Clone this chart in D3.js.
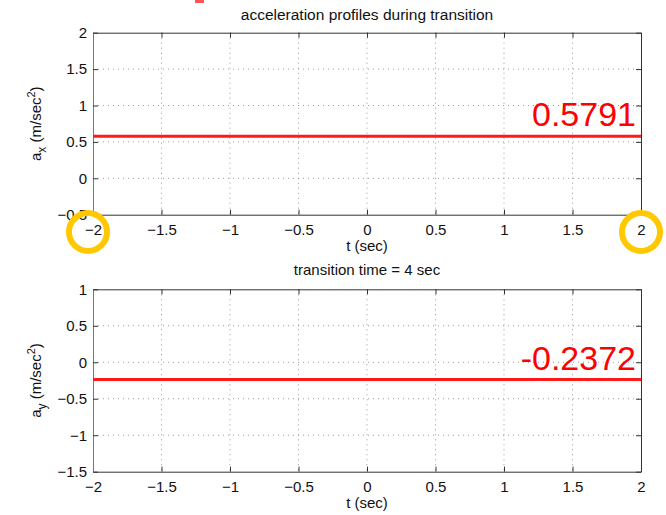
<!DOCTYPE html>
<html>
<head>
  <meta charset='utf-8'>
  <script src='https://cdn.jsdelivr.net/npm/d3@7/dist/d3.min.js'></script>
  <style>
    body { margin: 0; background: #fff; }
    svg { font-family: 'Liberation Sans', Arial, sans-serif; }
  </style>
</head>
<body>
  <div id='chart'></div>
  <script>
    // time samples and acceleration values during the transition
    var tValues = [-2, 2];
    var axValues = [0.5791, 0.5791];
    var ayValues = [-0.2372, -0.2372];

    var xTicks = [-2, -1.5, -1, -0.5, 0, 0.5, 1, 1.5, 2];
    var axTicks = [-0.5, 0, 0.5, 1, 1.5, 2];
    var ayTicks = [-1.5, -1, -0.5, 0, 0.5, 1];

    var axLabelText = '0.5791';
    var ayLabelText = '-0.2372';

    var W = 666, H = 515;
    var svg = d3.select('#chart').append('svg')
      .attr('width', W).attr('height', H);

    // small red fragment at the very top (cut off in the slide)
    svg.append('rect').attr('x', 195).attr('y', 0).attr('width', 9).attr('height', 3).attr('fill', '#f55');

    function fmt(v) {
      return String(v).replace('-', '\u2212');
    }

    function panel(top, bottom, yDomain, yTicks, values, sub, note) {
      var x = d3.scaleLinear().domain([-2, 2]).range([93, 641]);
      var y = d3.scaleLinear().domain(yDomain).range([bottom, top]);
      var g = svg.append('g');

      // dotted grid
      g.selectAll('.gx').data(xTicks.slice(1, -1)).enter().append('line')
        .attr('x1', d => x(d)).attr('x2', d => x(d))
        .attr('y1', top).attr('y2', bottom)
        .attr('stroke', '#999').attr('stroke-dasharray', '1,4');
      g.selectAll('.gy').data(yTicks.slice(1, -1)).enter().append('line')
        .attr('y1', d => y(d)).attr('y2', d => y(d))
        .attr('x1', 93).attr('x2', 641)
        .attr('stroke', '#999').attr('stroke-dasharray', '1,4');

      // axes with inward ticks on all four sides
      var bAx = g.append('g').attr('transform', 'translate(0,' + bottom + ')')
        .call(d3.axisBottom(x).tickValues(xTicks).tickSizeInner(-5).tickSizeOuter(0).tickPadding(10).tickFormat(fmt));
      var tAx = g.append('g').attr('transform', 'translate(0,' + top + ')')
        .call(d3.axisTop(x).tickValues(xTicks).tickSizeInner(-5).tickSizeOuter(0).tickFormat(''));
      var lAx = g.append('g').attr('transform', 'translate(93,0)')
        .call(d3.axisLeft(y).tickValues(yTicks).tickSizeInner(-5).tickSizeOuter(0).tickPadding(6).tickFormat(fmt));
      var rAx = g.append('g').attr('transform', 'translate(641,0)')
        .call(d3.axisRight(y).tickValues(yTicks).tickSizeInner(-5).tickSizeOuter(0).tickFormat(''));
      [bAx, tAx, lAx, rAx].forEach(function(a) {
        a.selectAll('path,line').attr('stroke', '#333');
        a.selectAll('text').attr('font-size', 15).attr('fill', '#111')
          .attr('font-family', "'Liberation Sans', Arial, sans-serif");
      });
      lAx.select('.domain').attr('stroke', '#777');

      // data line
      var line = d3.line().x((d, i) => x(tValues[i])).y(d => y(d));
      g.append('path').datum(values).attr('d', line)
        .attr('fill', 'none').attr('stroke', '#ff1a1a').attr('stroke-width', 3);

      // axis labels
      g.append('text').attr('x', 367).attr('y', bottom + 36).attr('text-anchor', 'middle')
        .attr('font-size', 15).attr('fill', '#111').text('t (sec)');
      var yl = g.append('text')
        .attr('transform', 'translate(41,' + ((top + bottom) / 2) + ') rotate(-90)')
        .attr('text-anchor', 'middle').attr('font-size', 15).attr('fill', '#111');
      yl.append('tspan').text('a');
      yl.append('tspan').attr('font-size', 12).attr('dy', 5).text(sub);
      yl.append('tspan').attr('dy', -5).text(' (m/sec');
      yl.append('tspan').attr('font-size', 11).attr('dy', -6).text('2');
      yl.append('tspan').attr('dy', 6).text(')');

      // big red value note
      g.append('text').attr('x', 636).attr('y', y(values[0]) - 10)
        .attr('text-anchor', 'end').attr('font-size', 34).attr('fill', '#ff0000')
        .text(note);
      return { x: x, y: y };
    }

    svg.append('text').attr('x', 367).attr('y', 20).attr('text-anchor', 'middle')
      .attr('font-size', 15.5).attr('fill', '#111').text('acceleration profiles during transition');
    svg.append('text').attr('x', 367).attr('y', 275).attr('text-anchor', 'middle')
      .attr('font-size', 15).attr('fill', '#111').text('transition time = 4 sec');

    var p1 = panel(32.7, 214.7, [-0.5, 2], axTicks, axValues, 'x', axLabelText);
    var p2 = panel(289.3, 471.7, [-1.5, 1], ayTicks, ayValues, 'y', ayLabelText);

    // yellow highlight circles around the end tick labels of the top plot
    svg.selectAll('.hl').data([-2, 2]).enter().append('circle')
      .attr('cx', d => p1.x(d) + (d < 0 ? -5 : 0)).attr('cy', 232).attr('r', 19)
      .attr('fill', 'none').attr('stroke', '#ffc800').attr('stroke-width', 6);
  </script>
</body>
</html>
